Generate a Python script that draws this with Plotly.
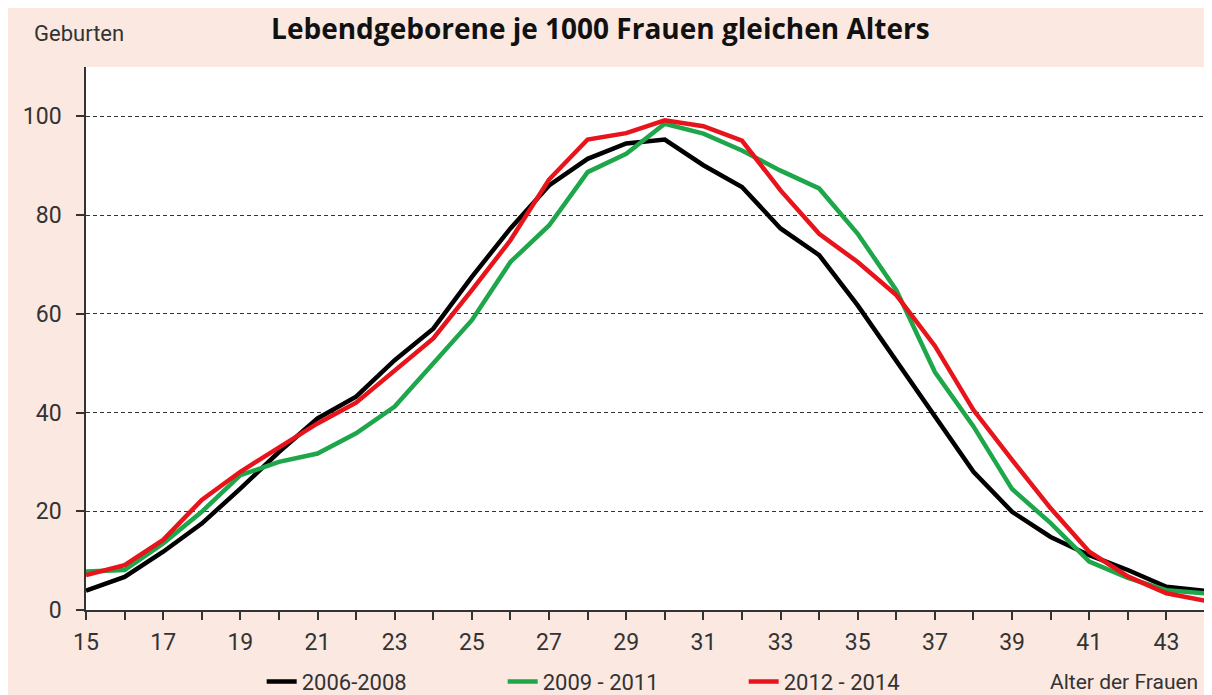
import plotly.graph_objects as go

ages = list(range(15, 45))
s_2006_2008 = [3.9, 6.7, 11.8, 17.5, 24.6, 32.0, 38.8, 43.2, 50.6, 57.0, 67.5, 77.3, 86.0, 91.4, 94.5, 95.3,
               90.1, 85.7, 77.3, 71.9, 61.7, 50.5, 39.5, 28.0, 19.9, 14.8, 11.1, 8.1, 4.7, 3.9]
s_2009_2011 = [7.8, 8.1, 13.5, 19.9, 27.3, 30.0, 31.7, 35.8, 41.2, 50.0, 58.7, 70.5, 77.9, 88.7, 92.4, 98.5,
               96.5, 93.1, 89.0, 85.4, 76.2, 64.8, 48.2, 37.2, 24.5, 17.6, 9.8, 6.5, 4.0, 3.4]
s_2012_2014 = [7.1, 9.1, 14.2, 22.3, 28.0, 33.0, 37.8, 42.0, 48.6, 55.0, 64.8, 74.9, 87.2, 95.3, 96.6, 99.2,
               98.0, 95.1, 85.0, 76.2, 70.5, 63.8, 53.5, 40.5, 30.4, 20.6, 11.8, 6.8, 3.4, 1.9]
series_names = ["2006-2008", "2009 - 2011", "2012 - 2014"]
series_colors = ["#000000", "#1DA64A", "#E8141B"]
y_ticks = [0, 20, 40, 60, 80, 100]
x_tick_labels = [str(a) if a % 2 == 1 else "" for a in ages]

FONT = "Roboto, sans-serif"
BG = "#FAE8E1"

fig = go.Figure()
for name, vals, col in zip(series_names, [s_2006_2008, s_2009_2011, s_2012_2014], series_colors):
    fig.add_trace(go.Scatter(x=ages, y=vals, mode="lines", name=name,
                             line=dict(color=col, width=4.5)))

fig.update_layout(
    width=1204, height=687,
    paper_bgcolor=BG, plot_bgcolor="white",
    margin=dict(l=78, r=7, t=59, b=85, autoexpand=False),
    font=dict(family=FONT, size=23, color="#333333"),
    title=dict(text="<b>Lebendgeborene je 1000 Frauen gleichen Alters</b>",
               x=0.492, xanchor="center", y=0.969, yanchor="middle",
               font=dict(family="Open Sans, sans-serif", size=28, color="#111111")),
    showlegend=True,
    legend=dict(orientation="h", x=0.157, xanchor="left", y=-0.132, yanchor="middle",
                bgcolor="rgba(0,0,0,0)", font=dict(size=22, color="#333333"),
                entrywidth=196, entrywidthmode="pixels", itemwidth=30,
                traceorder="normal"),
    xaxis=dict(range=[15, 44], tickvals=ages, ticktext=x_tick_labels,
               ticks="outside", ticklen=8, tickwidth=1.5, tickcolor="#333333",
               showline=True, linecolor="#333333", linewidth=1.5, ticklabelstandoff=3,
               showgrid=False, zeroline=False, tickfont=dict(size=23)),
    yaxis=dict(range=[0, 110], tickvals=y_ticks,
               ticks="outside", ticklen=8, tickwidth=1.5, tickcolor="#333333",
               showline=True, linecolor="#333333", linewidth=1.5, ticklabelstandoff=10,
               showgrid=True, gridcolor="#333333", gridwidth=1.2, griddash="4px,3px",
               zeroline=False, tickfont=dict(size=23)),
    annotations=[
        dict(text="Geburten", xref="paper", yref="paper", x=-0.0483, y=1.0626,
             xanchor="left", yanchor="middle", showarrow=False,
             font=dict(size=22, color="#333333")),
        dict(text="Alter der Frauen", xref="paper", yref="paper", x=0.9955, y=-0.132,
             xanchor="right", yanchor="middle", showarrow=False,
             font=dict(size=21, color="#333333")),
    ],
)

fig.write_html("out.html")
